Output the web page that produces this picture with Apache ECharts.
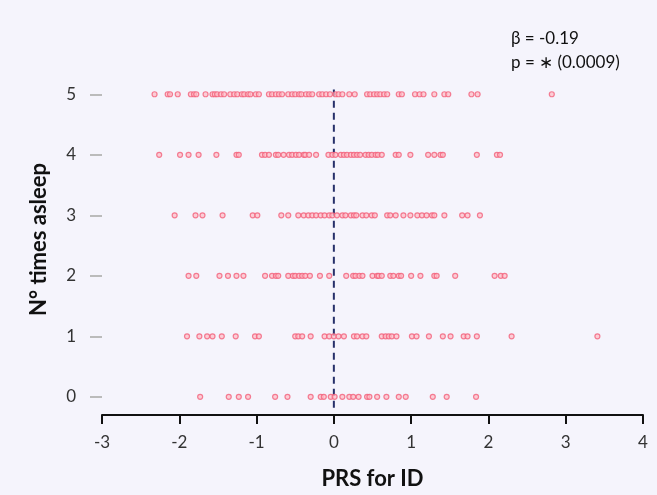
<!DOCTYPE html>
<html><head><meta charset="utf-8">
<script src="https://cdn.jsdelivr.net/npm/echarts@6/dist/echarts.min.js"></script>
<style>html,body{margin:0;padding:0;background:#f5f4fc}#c{width:657px;height:495px}</style>
</head><body><div id="c"></div>
<script>
const yCategories = [0, 1, 2, 3, 4, 5];
const row0 = [-1.73,-1.36,-1.23,-1.11,-0.76,-0.60,-0.30,-0.17,-0.13,-0.04,0.01,0.11,0.20,0.25,0.32,0.43,0.46,0.56,0.68,0.84,0.93,1.28,1.46,1.84];
const row1 = [-1.90,-1.74,-1.64,-1.57,-1.45,-1.27,-1.02,-0.97,-0.50,-0.46,-0.41,-0.30,-0.12,-0.06,0.00,0.06,0.13,0.26,0.30,0.37,0.42,0.62,0.67,0.71,0.75,0.81,1.01,1.07,1.23,1.41,1.51,1.68,1.73,1.85,2.30,3.41];
const row2 = [-1.88,-1.78,-1.48,-1.37,-1.26,-1.17,-0.89,-0.80,-0.75,-0.72,-0.59,-0.53,-0.50,-0.45,-0.41,-0.37,-0.31,-0.18,-0.06,0.16,0.25,0.28,0.33,0.37,0.50,0.56,0.58,0.62,0.73,0.77,0.84,0.87,1.00,1.12,1.30,1.33,1.57,2.08,2.16,2.21];
const row3 = [-2.06,-1.79,-1.70,-1.44,-1.05,-0.99,-0.68,-0.59,-0.46,-0.39,-0.33,-0.28,-0.23,-0.17,-0.12,-0.06,-0.02,0.04,0.11,0.15,0.22,0.26,0.29,0.37,0.42,0.49,0.53,0.69,0.73,0.80,0.90,0.99,1.08,1.14,1.20,1.27,1.30,1.43,1.66,1.73,1.89];
const row4 = [-2.26,-1.99,-1.88,-1.75,-1.52,-1.26,-1.23,-0.93,-0.89,-0.84,-0.75,-0.72,-0.65,-0.58,-0.54,-0.49,-0.45,-0.39,-0.37,-0.32,-0.23,-0.07,-0.02,0.02,0.09,0.13,0.17,0.22,0.26,0.30,0.34,0.41,0.45,0.49,0.54,0.57,0.62,0.80,0.84,0.99,1.22,1.30,1.38,1.41,1.85,2.11,2.15];
const row5 = [-2.32,-2.15,-2.12,-2.02,-1.85,-1.81,-1.78,-1.66,-1.57,-1.54,-1.51,-1.46,-1.42,-1.34,-1.29,-1.25,-1.19,-1.16,-1.11,-1.08,-1.01,-0.97,-0.84,-0.80,-0.75,-0.71,-0.67,-0.59,-0.54,-0.50,-0.45,-0.42,-0.36,-0.32,-0.28,-0.19,-0.15,-0.10,-0.05,0.02,0.06,0.11,0.20,0.27,0.43,0.47,0.52,0.56,0.60,0.65,0.69,0.84,0.88,1.05,1.11,1.16,1.30,1.43,1.48,1.78,1.86,2.82];
const rows = [row0, row1, row2, row3, row4, row5];
const xTicks = [-3, -2, -1, 0, 1, 2, 3, 4];
const refLine = [[0, -0.18], [0, 5.08]];
const annotation = ['β = -0.19', 'p = ∗ (0.0009)'];

const points = [];
rows.forEach((r, i) => r.forEach(v => points.push([v, yCategories[i]])));

const chart = echarts.init(document.getElementById('c'), null, {renderer: 'canvas'});
const font = 'Lato, "Open Sans", sans-serif';
chart.setOption({
  backgroundColor: '#f5f4fc',
  animation: false,
  grid: {left: 102, right: 14, top: 64, bottom: 75},
  xAxis: {
    type: 'value', min: xTicks[0], max: xTicks[xTicks.length - 1], interval: 1,
    name: 'PRS for ID', nameLocation: 'middle', nameGap: 53,
    nameTextStyle: {fontFamily: font, fontSize: 22, fontWeight: 'bold', color: '#111'},
    axisLine: {onZero: false, lineStyle: {color: '#111', width: 2}},
    axisTick: {lineStyle: {color: '#111', width: 2}, length: 9},
    axisLabel: {fontFamily: font, fontSize: 17, color: '#333', margin: 19},
    splitLine: {show: false}
  },
  yAxis: {
    type: 'value', min: -0.3, max: 5.5,
    name: 'N° times asleep', nameLocation: 'middle', nameGap: 52, nameRotate: 90,
    nameTextStyle: {fontFamily: font, fontSize: 22, fontWeight: 'bold', color: '#111'},
    axisLine: {show: false, onZero: false},
    axisTick: {show: true, length: 12, lineStyle: {color: '#bbb', width: 2}, customValues: yCategories},
    axisLabel: {fontFamily: font, fontSize: 17, color: '#333', margin: 26, customValues: yCategories},
    splitLine: {show: false}
  },
  graphic: [{
    type: 'text', left: 511, top: 27,
    style: {text: annotation.join('\n'), fontFamily: font, fontSize: 17, lineHeight: 24, fill: '#111'}
  }],
  series: [
    {
      type: 'line', data: refLine, symbol: 'none', silent: true, z: 1,
      lineStyle: {color: '#27306a', width: 2, type: [7, 5]}
    },
    {
      type: 'scatter', data: points, symbol: 'circle', symbolSize: 5, z: 2,
      itemStyle: {color: 'rgba(255,190,200,0.9)', borderColor: '#f2607a', borderWidth: 1.2}
    }
  ]
});
</script></body></html>
